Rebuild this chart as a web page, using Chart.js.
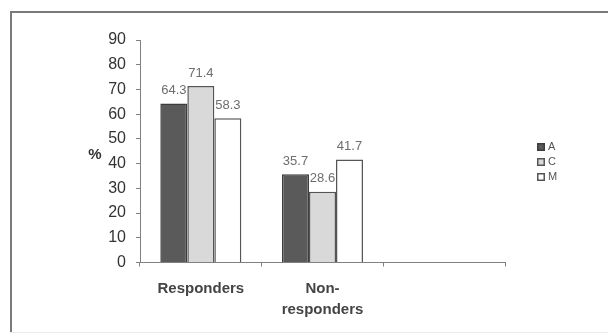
<!DOCTYPE html>
<html>
<head>
<meta charset="utf-8">
<script src="https://cdn.jsdelivr.net/npm/chart.js@4/dist/chart.umd.min.js"></script>
<style>
  html, body { margin: 0; padding: 0; background: #fff; }
  #wrap { width: 608px; height: 333px; position: relative; }
</style>
</head>
<body>
<div id="wrap"><canvas id="c" width="608" height="333"></canvas></div>
<script>
// Response rates (%) per group
const categories = ['Responders', ['Non-', 'responders'], ''];
const seriesNames = ['A', 'C', 'M'];
const valuesA = [64.3, 35.7, null];
const valuesC = [71.4, 28.6, null];
const valuesM = [58.3, 41.7, null];
const yMin = 0, yMax = 90, yStep = 10;
const yTitle = '%';

const FONT = '"Liberation Sans", Arial, sans-serif';
const AXIS = '#808080';

// Outer frame around the figure
const framePlugin = {
  id: 'frame',
  beforeDraw(chart) {
    const ctx = chart.ctx;
    ctx.save();
    ctx.fillStyle = '#fff';
    ctx.fillRect(0, 0, chart.width, chart.height);
    ctx.strokeStyle = '#7a7a7a';
    ctx.lineWidth = 2;
    ctx.beginPath();
    ctx.moveTo(11, chart.height);
    ctx.lineTo(11, 12);
    ctx.lineTo(chart.width, 12);
    ctx.stroke();
    ctx.strokeStyle = '#ececec';
    ctx.lineWidth = 1;
    ctx.beginPath();
    ctx.moveTo(10, chart.height - 0.5);
    ctx.lineTo(chart.width, chart.height - 0.5);
    ctx.stroke();
    ctx.restore();
  }
};

// Value printed above each bar
const valueLabels = {
  id: 'valueLabels',
  afterDatasetsDraw(chart) {
    const ctx = chart.ctx;
    ctx.save();
    ctx.font = '13px ' + FONT;
    ctx.fillStyle = '#6e6e6e';
    ctx.textAlign = 'center';
    ctx.textBaseline = 'middle';
    chart.data.datasets.forEach((ds, i) => {
      const meta = chart.getDatasetMeta(i);
      meta.data.forEach((bar, j) => {
        const v = ds.data[j];
        if (v === null || v === undefined) return;
        ctx.fillText(v.toFixed(1), bar.x, bar.y - 13);
      });
    });
    ctx.restore();
  }
};

// Horizontal "%" title left of the value axis
const yTitlePlugin = {
  id: 'yTitle',
  afterDraw(chart) {
    const ctx = chart.ctx;
    const a = chart.chartArea;
    ctx.save();
    ctx.font = 'bold 15px ' + FONT;
    ctx.fillStyle = '#333';
    ctx.textAlign = 'center';
    ctx.textBaseline = 'middle';
    ctx.fillText(yTitle, 95, (a.top + a.bottom) / 2 + 4);
    ctx.restore();
  }
};

// Legend with square swatches on the right
const legendPlugin = {
  id: 'sideLegend',
  afterDraw(chart) {
    const ctx = chart.ctx;
    ctx.save();
    ctx.font = '11px ' + FONT;
    ctx.textAlign = 'left';
    ctx.textBaseline = 'middle';
    const x = 537, y0 = 147, gap = 15, box = 8;
    chart.data.datasets.forEach((ds, i) => {
      const y = y0 + i * gap;
      ctx.fillStyle = ds.backgroundColor;
      ctx.fillRect(x, y - box / 2, box, box);
      ctx.strokeStyle = ds.borderColor;
      ctx.lineWidth = 1.5;
      ctx.strokeRect(x + 0.75, y - box / 2 + 0.75, box - 1.5, box - 1.5);
      ctx.fillStyle = '#555';
      ctx.fillText(ds.label, x + box + 3, y);
    });
    ctx.restore();
  }
};

new Chart(document.getElementById('c'), {
  type: 'bar',
  data: {
    labels: categories,
    datasets: [
      { label: seriesNames[0], data: valuesA, backgroundColor: '#5a5a5a', borderColor: '#3c3c3c', borderWidth: 1.5 },
      { label: seriesNames[1], data: valuesC, backgroundColor: '#d9d9d9', borderColor: '#555555', borderWidth: 1.5 },
      { label: seriesNames[2], data: valuesM, backgroundColor: '#ffffff', borderColor: '#555555', borderWidth: 1.5 }
    ]
  },
  options: {
    responsive: false,
    animation: false,
    devicePixelRatio: 1,
    layout: { padding: { left: 90, right: 103, top: 40, bottom: 10.5 } },
    datasets: { bar: { categoryPercentage: 0.666, barPercentage: 1.0 } },
    plugins: {
      legend: { display: false },
      tooltip: { enabled: false }
    },
    scales: {
      x: {
        grid: { offset: true, drawOnChartArea: false, drawTicks: true, tickLength: 4, color: AXIS },
        border: { display: true, color: AXIS, width: 1 },
        ticks: {
          color: '#444',
          padding: 12.5,
          maxRotation: 0,
          autoSkip: false,
          font: { family: FONT, size: 15, weight: 'bold', lineHeight: 1.35 }
        },
        afterFit(s) { s.height = 60; }
      },
      y: {
        min: yMin,
        max: yMax,
        grid: { drawOnChartArea: false, drawTicks: true, tickLength: 4, color: AXIS },
        border: { display: true, color: AXIS, width: 1 },
        ticks: {
          stepSize: yStep,
          color: '#333',
          padding: 10,
          font: { family: FONT, size: 16 }
        },
        afterFit(s) { s.width = 50; }
      }
    }
  },
  plugins: [framePlugin, valueLabels, yTitlePlugin, legendPlugin]
});
</script>
</body>
</html>
